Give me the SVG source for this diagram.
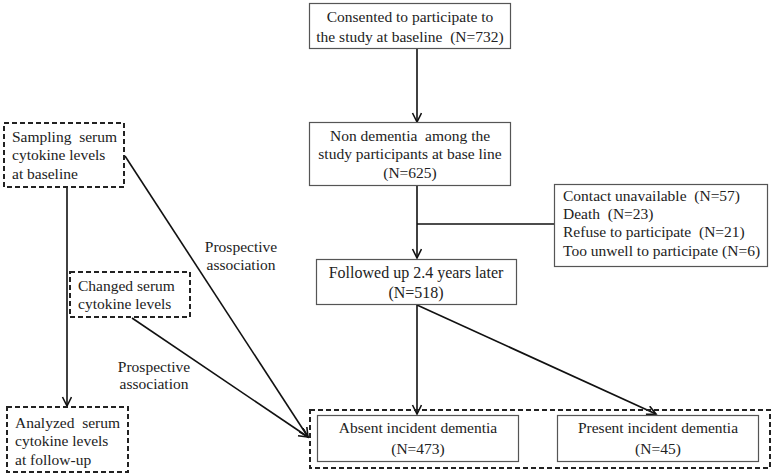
<svg xmlns="http://www.w3.org/2000/svg" width="773" height="476" viewBox="0 0 773 476">
<style>
text{font-family:"Liberation Serif","Times New Roman",serif;font-size:15.5px;fill:#222;white-space:pre}
.c{text-anchor:middle}
.box{fill:#fff;stroke:#555;stroke-width:1.2}
.dash{fill:none;stroke:#222;stroke-width:2;stroke-dasharray:5,3}
.ln{fill:none;stroke:#111;stroke-width:1.6}
</style>
<defs>
<marker id="ah" markerWidth="12" markerHeight="12" refX="10" refY="5" orient="auto" markerUnits="userSpaceOnUse">
<path d="M1,0.5 L10,5 L1,9.5" fill="none" stroke="#111" stroke-width="1.6"/>
</marker>
</defs>
<g id="connectors">
<line class="ln" x1="417" y1="49" x2="417" y2="122" marker-end="url(#ah)"/>
<line class="ln" x1="417" y1="185" x2="417" y2="258" marker-end="url(#ah)"/>
<line class="ln" x1="417" y1="224" x2="554" y2="224"/>
<line class="ln" x1="417" y1="305" x2="417" y2="414" marker-end="url(#ah)"/>
<line class="ln" x1="417" y1="305" x2="656" y2="414" marker-end="url(#ah)"/>
<line class="ln" x1="67" y1="187" x2="67" y2="406" marker-end="url(#ah)"/>
<line class="ln" x1="125" y1="156" x2="308" y2="437" marker-end="url(#ah)"/>
<line class="ln" x1="132" y1="318" x2="308" y2="437" marker-end="url(#ah)"/>
</g>
<g id="n1">
<rect class="box" x="309.5" y="3.5" width="201" height="45"/>
<text class="c" x="410" y="22">Consented to participate to</text>
<text class="c" x="410" y="42">the study at baseline  (N=732)</text>
</g>
<g id="n2">
<rect class="box" x="309.5" y="122.5" width="201" height="63"/>
<text class="c" x="410" y="141">Non dementia  among the</text>
<text class="c" x="410" y="159">study participants at base line</text>
<text class="c" x="410" y="178">(N=625)</text>
</g>
<g id="n3">
<rect class="box" x="554.5" y="184.5" width="213" height="82"/>
<text x="563" y="201">Contact unavailable  (N=57)</text>
<text x="563" y="219">Death  (N=23)</text>
<text x="563" y="237">Refuse to participate  (N=21)</text>
<text x="563" y="256">Too unwell to participate (N=6)</text>
</g>
<g id="n4">
<rect class="box" x="316.5" y="259.5" width="200" height="45"/>
<text class="c" x="416" y="278" style="font-size:16px">Followed up 2.4 years later</text>
<text class="c" x="416" y="298" style="font-size:16px">(N=518)</text>
</g>
<g id="outcome">
<rect class="dash" x="310" y="410" width="460" height="58"/>
</g>
<g id="n5">
<rect class="box" x="317.5" y="415.5" width="201" height="46"/>
<text class="c" x="418" y="433">Absent incident dementia</text>
<text class="c" x="418" y="454">(N=473)</text>
</g>
<g id="n6">
<rect class="box" x="557.5" y="415.5" width="201" height="46"/>
<text class="c" x="658" y="433">Present incident dementia</text>
<text class="c" x="658" y="454">(N=45)</text>
</g>
<g id="n7">
<rect class="dash" x="4" y="123" width="120" height="64"/>
<text x="12" y="142">Sampling  serum</text>
<text x="12" y="160">cytokine levels</text>
<text x="12" y="179">at baseline</text>
</g>
<g id="n8">
<rect class="dash" x="70" y="272" width="120" height="45"/>
<text x="78" y="291">Changed serum</text>
<text x="78" y="309">cytokine levels</text>
</g>
<g id="n9">
<rect class="dash" x="7" y="407" width="121" height="65"/>
<text x="15" y="428">Analyzed  serum</text>
<text x="15" y="446">cytokine levels</text>
<text x="15" y="465">at follow-up</text>
</g>
<g id="labels">
<text class="c" x="241" y="252">Prospective</text>
<text class="c" x="241" y="270">association</text>
<text class="c" x="154" y="372">Prospective</text>
<text class="c" x="154" y="389">association</text>
</g>
</svg>
